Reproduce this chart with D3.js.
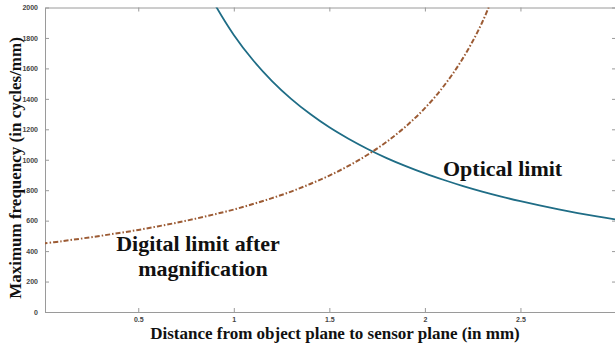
<!DOCTYPE html>
<html>
<head>
<meta charset="utf-8">
<script src="https://cdn.jsdelivr.net/npm/d3@7"></script>
<style>
  body { margin: 0; background: #fff; }
  svg { display: block; }
</style>
</head>
<body>
<div id="chart"></div>
<script>
// distance (mm) -> max frequency (cycles/mm)
const digitalX = [0, 0.1, 0.2, 0.3, 0.4, 0.5, 0.6, 0.7, 0.8, 0.9, 1.0, 1.1, 1.2, 1.3, 1.4, 1.5, 1.6, 1.7, 1.8, 1.9, 2.0, 2.1, 2.2, 2.3, 2.4];
const digitalY = [450, 465, 482, 500, 519, 539, 562, 586, 613, 642, 673, 709, 748, 791, 841, 896, 960, 1033, 1118, 1219, 1339, 1486, 1669, 1903, 2214];

const opticalX = [0.85, 0.9, 1.0, 1.1, 1.2, 1.3, 1.4, 1.5, 1.6, 1.7, 1.8, 1.9, 2.0, 2.1, 2.2, 2.3, 2.4, 2.5, 2.6, 2.7, 2.8, 2.9, 3.0];
const opticalY = [2141, 2022, 1820, 1655, 1517, 1400, 1300, 1213, 1138, 1071, 1011, 958, 910, 867, 827, 791, 758, 728, 700, 674, 650, 628, 607];

const xTicks = [0.5, 1, 1.5, 2, 2.5, 3];
const yTicks = [0, 200, 400, 600, 800, 1000, 1200, 1400, 1600, 1800, 2000];

const W = 615, H = 350;
const margin = { top: 7.5, right: -1, bottom: 38, left: 45 };
const width = W - margin.left - margin.right;
const height = H - margin.top - margin.bottom;

const svg = d3.select("#chart").append("svg")
  .attr("width", W)
  .attr("height", H);

const g = svg.append("g")
  .attr("transform", `translate(${margin.left},${margin.top})`);

const x = d3.scaleLinear().domain([0.012, 3.0]).range([0, width]);
const y = d3.scaleLinear().domain([0, 2000]).range([height, 0]);

g.append("clipPath").attr("id", "clip")
  .append("rect").attr("width", width).attr("height", height);

const axisColor = "#9a9a9a";
const tickFont = "bold 7px 'Liberation Sans', Arial, sans-serif";

// box axes, matlab style (ticks pointing in)
const axBottom = g.append("g")
  .attr("transform", `translate(0,${height})`)
  .call(d3.axisBottom(x).tickValues(xTicks.filter(d => d < 3)).tickSizeInner(-4).tickSizeOuter(0).tickPadding(5).tickFormat(d3.format("")));
const axTop = g.append("g")
  .call(d3.axisTop(x).tickValues(xTicks).tickSizeInner(-4).tickSizeOuter(0).tickFormat(""));
const axLeft = g.append("g")
  .call(d3.axisLeft(y).tickValues(yTicks).tickSizeInner(-4).tickSizeOuter(0).tickPadding(7).tickFormat(d3.format("d")));
const axRight = g.append("g")
  .attr("transform", `translate(${width},0)`)
  .call(d3.axisRight(y).tickValues(yTicks).tickSizeInner(-4).tickSizeOuter(0).tickFormat(""));

[axBottom, axTop, axLeft, axRight].forEach(a => {
  a.selectAll("path, line").attr("stroke", axisColor);
  a.selectAll("text")
    .style("font", tickFont)
    .attr("fill", "#444");
});

const line = d3.line()
  .x(d => x(d[0]))
  .y(d => y(d[1]))
  .curve(d3.curveCatmullRom);

const plot = g.append("g").attr("clip-path", "url(#clip)");

plot.append("path")
  .datum(opticalX.map((v, i) => [v, opticalY[i]]))
  .attr("fill", "none")
  .attr("stroke", "#1f6d86")
  .attr("stroke-width", 1.8)
  .attr("d", line);

plot.append("path")
  .datum(digitalX.map((v, i) => [v, digitalY[i]]))
  .attr("fill", "none")
  .attr("stroke", "#9c5b34")
  .attr("stroke-width", 2)
  .attr("stroke-dasharray", "5,2,1.5,2")
  .attr("d", line);

const serif = "'Liberation Serif', 'Times New Roman', serif";

g.append("text")
  .attr("x", 443 - margin.left)
  .attr("y", 176 - margin.top)
  .style("font", `bold 22px ${serif}`)
  .attr("fill", "#111")
  .text("Optical limit");

g.append("text")
  .attr("x", 198 - margin.left)
  .attr("y", 251 - margin.top)
  .attr("text-anchor", "middle")
  .style("font", `bold 22px ${serif}`)
  .attr("fill", "#111")
  .text("Digital limit after");

g.append("text")
  .attr("x", 203 - margin.left)
  .attr("y", 276 - margin.top)
  .attr("text-anchor", "middle")
  .style("font", `bold 22px ${serif}`)
  .attr("fill", "#111")
  .text("magnification");

svg.append("text")
  .attr("x", 335)
  .attr("y", 339)
  .attr("text-anchor", "middle")
  .style("font", `bold 17px ${serif}`)
  .attr("fill", "#111")
  .text("Distance from object plane to sensor plane (in mm)");

svg.append("text")
  .attr("transform", "translate(21,168) rotate(-90)")
  .attr("text-anchor", "middle")
  .style("font", `bold 17px ${serif}`)
  .attr("fill", "#111")
  .text("Maximum frequency (in cycles/mm)");
</script>
</body>
</html>
